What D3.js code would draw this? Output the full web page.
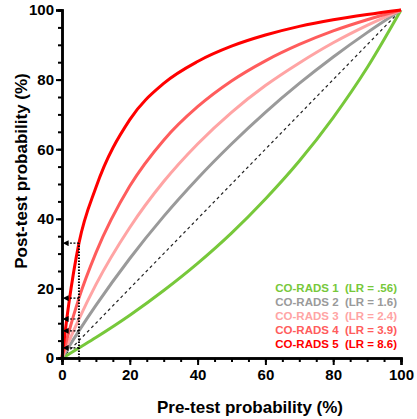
<!DOCTYPE html>
<html>
<head>
<meta charset="utf-8">
<script src="https://cdn.jsdelivr.net/npm/d3@7"></script>
<style>
  body { margin: 0; background: #fff; }
  svg text { font-family: "Liberation Sans", Arial, sans-serif; font-weight: bold; }
</style>
</head>
<body>
<div id="wrapper"></div>
<script>
// pre-test probability (%) sample points
const preTest = [0, 2, 5, 10, 20, 30, 40, 50, 60, 70, 80, 90, 100]

// post-test probability (%)
const coRads1 = [0, 1.1, 2.9, 5.9, 12.3, 19.4, 27.2, 35.9, 45.7, 56.6, 69.1, 83.4, 100]
const coRads2 = [0, 3.2, 7.8, 15.1, 28.6, 40.7, 51.6, 61.5, 70.6, 78.9, 86.5, 93.5, 100]
const coRads3 = [0, 4.7, 11.2, 21.1, 37.5, 50.7, 61.5, 70.6, 78.3, 84.8, 90.6, 95.6, 100]
const coRads4 = [0, 7.4, 17.2, 30.2, 49.4, 62.6, 72.2, 79.6, 85.4, 90.1, 94.0, 97.2, 100]
const coRads5 = [0, 15.5, 33.0, 49.0, 68.5, 78.9, 85.2, 89.6, 92.8, 95.3, 97.2, 98.7, 100]

const seriesNames = ["CO-RADS 1  (LR = .56)", "CO-RADS 2  (LR = 1.6)", "CO-RADS 3  (LR = 2.4)", "CO-RADS 4  (LR = 3.9)", "CO-RADS 5  (LR = 8.6)"]
const seriesColors = ["#77c83a", "#9a9a9a", "#ffa4a4", "#ff5c5c", "#ff0000"]
const seriesValues = [coRads1, coRads2, coRads3, coRads4, coRads5]

// example read-off at 5 % pre-test probability
const exampleX = 5
const exampleY = [2.9, 7.8, 11.2, 17.2, 33.0]

const xTicks = [0, 20, 40, 60, 80, 100]
const yTicks = [0, 20, 40, 60, 80, 100]

const dimensions = {
    width: 417,
    height: 419,
    margins: { top: 10, right: 15, bottom: 61, left: 62 }
}
dimensions.boundedWidth = dimensions.width - dimensions.margins.left - dimensions.margins.right
dimensions.boundedHeight = dimensions.height - dimensions.margins.top - dimensions.margins.bottom

const svg = d3.select("#wrapper")
    .append("svg")
        .attr("width", dimensions.width)
        .attr("height", dimensions.height)

const bounds = svg.append("g")
    .attr("transform", `translate(${dimensions.margins.left},${dimensions.margins.top})`)

const xScale = d3.scaleLinear()
    .domain([0, 100])
    .range([0, 339])
const yScale = d3.scaleLinear()
    .domain([0, 100])
    .range([dimensions.boundedHeight, 0])

// diagonal (LR = 1)
bounds.append("line")
    .attr("x1", xScale(0)).attr("y1", yScale(0))
    .attr("x2", xScale(100)).attr("y2", yScale(100))
    .attr("stroke", "#222")
    .attr("stroke-width", 1.2)
    .attr("stroke-dasharray", "3,3")

const lineGenerator = d3.line()
    .x((d, i) => xScale(preTest[i]))
    .y(d => yScale(d))
    .curve(d3.curveMonotoneX)

bounds.selectAll(".curve")
    .data(seriesValues)
    .join("path")
        .attr("class", "curve")
        .attr("d", d => lineGenerator(d))
        .attr("fill", "none")
        .attr("stroke", (d, i) => seriesColors[i])
        .attr("stroke-width", 3)

// arrows
const defs = svg.append("defs")
defs.append("marker")
    .attr("id", "arrow")
    .attr("viewBox", "0 0 10 10")
    .attr("refX", 1).attr("refY", 5)
    .attr("markerWidth", 5).attr("markerHeight", 5)
    .attr("orient", "auto-start-reverse")
    .append("path")
        .attr("d", "M0,0 L10,5 L0,10 Z")
        .attr("fill", "#000")

bounds.append("line")
    .attr("x1", xScale(exampleX)).attr("y1", yScale(0))
    .attr("x2", xScale(exampleX)).attr("y2", yScale(d3.max(exampleY)))
    .attr("stroke", "#000")
    .attr("stroke-width", 2)
    .attr("stroke-dasharray", "1.5,1.5")

bounds.selectAll(".arrow")
    .data(exampleY)
    .join("line")
        .attr("class", "arrow")
        .attr("x1", xScale(exampleX))
        .attr("x2", xScale(0) + 6)
        .attr("y1", d => yScale(d))
        .attr("y2", d => yScale(d))
        .attr("stroke", "#000")
        .attr("stroke-width", 1.2)
        .attr("stroke-dasharray", "2,1.5")
        .attr("marker-end", "url(#arrow)")

// axes
const xAxis = bounds.append("g")
    .attr("transform", `translate(0,${dimensions.boundedHeight})`)
xAxis.call(d3.axisBottom(xScale).tickValues(d3.range(0, 101, 5)).tickSize(4).tickFormat(""))
xAxis.call(g => g.append("g").call(d3.axisBottom(xScale).tickValues(xTicks).tickSize(7).tickPadding(4)))
xAxis.selectAll(".domain").attr("stroke-width", 2.5)
xAxis.selectAll("line").attr("stroke-width", 2)
xAxis.selectAll("text").attr("font-size", 15).attr("fill", "#000")

const yAxis = bounds.append("g")
yAxis.call(d3.axisLeft(yScale).tickValues(d3.range(0, 101, 5)).tickSize(4).tickFormat(""))
yAxis.call(g => g.append("g").call(d3.axisLeft(yScale).tickValues(yTicks).tickSize(6).tickPadding(2)))
yAxis.selectAll(".domain").attr("stroke-width", 2.5)
yAxis.selectAll("line").attr("stroke-width", 2)
yAxis.selectAll("text").attr("font-size", 15).attr("fill", "#000")

// axis titles
svg.append("text")
    .attr("x", 250)
    .attr("y", 413)
    .attr("text-anchor", "middle")
    .attr("font-size", 17)
    .text("Pre-test probability (%)")

svg.append("text")
    .attr("transform", "translate(27,171) rotate(-90)")
    .attr("text-anchor", "middle")
    .attr("font-size", 17)
    .text("Post-test probability (%)")

// legend
svg.selectAll(".legend")
    .data(seriesNames)
    .join("text")
        .attr("class", "legend")
        .attr("x", 397)
        .attr("y", (d, i) => 292 + i * 14)
        .attr("text-anchor", "end")
        .attr("font-size", 11.5)
        .attr("fill", (d, i) => seriesColors[i])
        .attr("xml:space", "preserve")
        .style("white-space", "pre")
        .text(d => d)
</script>
</body>
</html>
